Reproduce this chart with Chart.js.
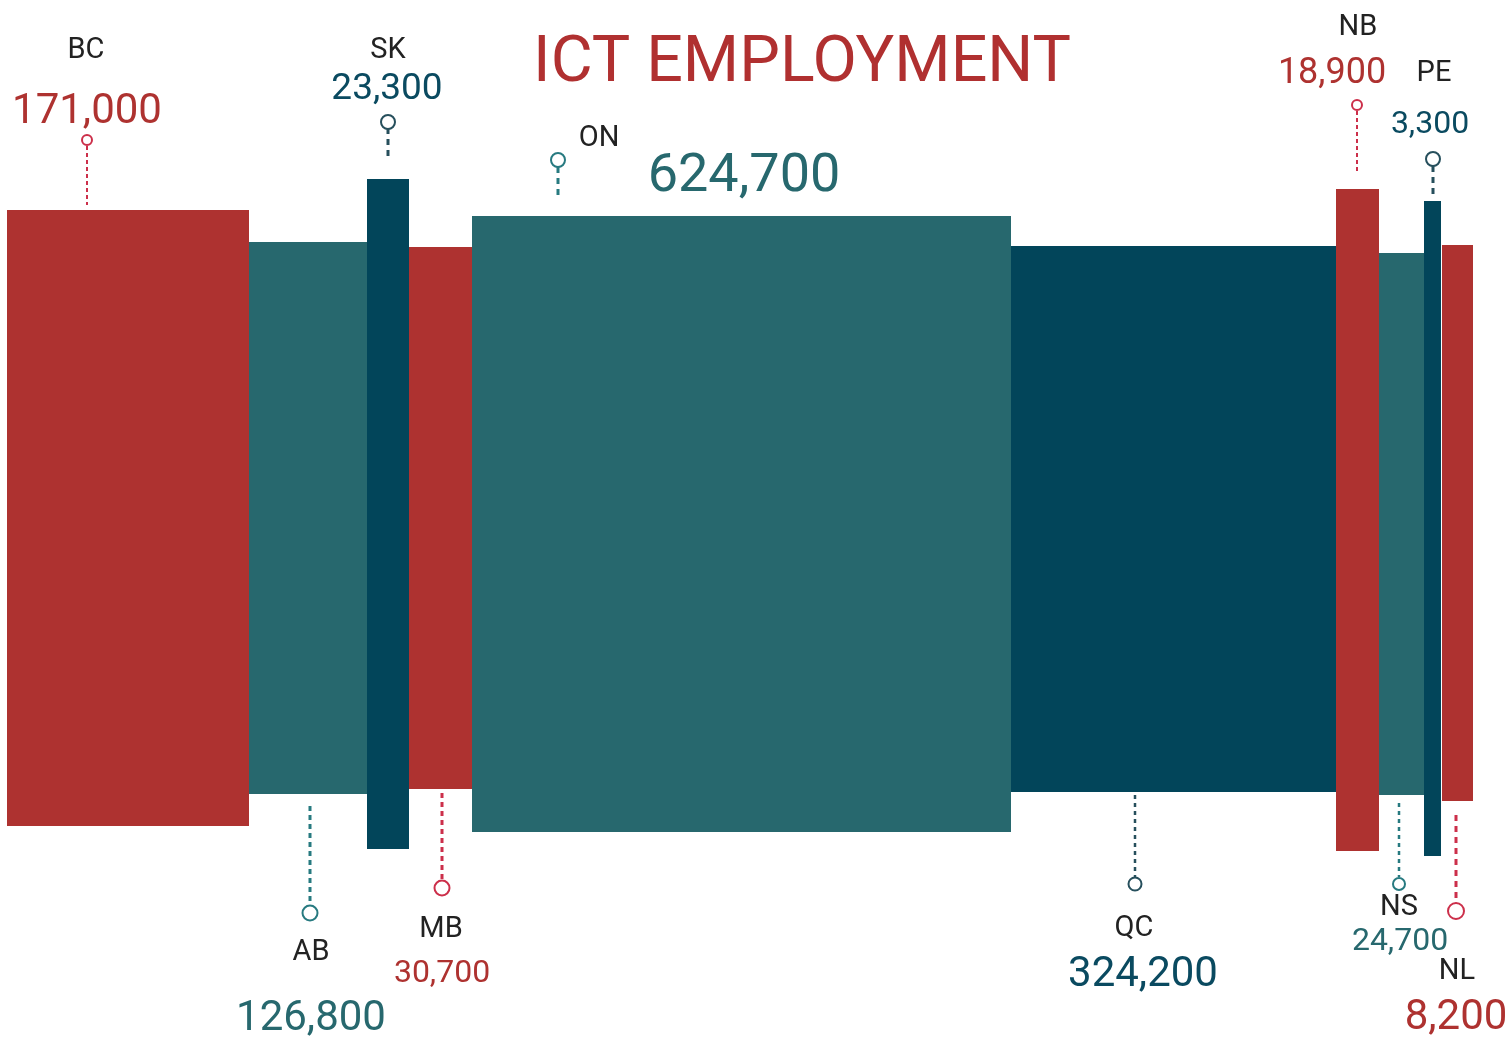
<!DOCTYPE html>
<html>
<head>
<meta charset="utf-8">
<script src="https://cdn.jsdelivr.net/npm/chart.js@4.4.1/dist/chart.umd.min.js"></script>
<style>
    html, body { margin: 0; padding: 0; background: #fff; }
    #wrap { width: 1510px; height: 1041px; position: relative; }
</style>
</head>
<body>
<div id="wrap"><canvas id="ictChart"></canvas></div>
<script>
// ===== DATA =====
const provinces = ["BC", "AB", "SK", "MB", "ON", "QC", "NB", "NS", "PE", "NL"];
const employment = [171000, 126800, 23300, 30700, 624700, 324200, 18900, 24700, 3300, 8200];

// bar extents (x = left edge + width, y = above / below centre line)
const barLeft = [7, 249, 367, 409, 472, 1011, 1336, 1379, 1424, 1442];
const barWidth = [242, 118, 42, 63, 539, 325, 43, 45, 17, 31];
const barTop = [310, 278, 341, 273, 304, 274, 331, 267, 319, 275];
const barBottom = [-306, -274, -329, -269, -312, -272, -331, -275, -336, -281];

// colour group for each province: 0 red, 1 teal, 2 navy
const colourGroup = [0, 1, 2, 0, 1, 2, 0, 1, 2, 0];

// ===== STYLE =====
const barColours = ["#ae3230", "#27686e", "#02455a"];
const markerColours = ["#cc2f4a", "#277a80", "#264f5c"];
const valueColours = ["#ae3230", "#27686e", "#0a4a60"];

// leader lines + markers (in chart units)
const leaders = [
    { x: 87,   from: 374,  to: 315,  dot: 380,  r: 5,   dash: [4, 3], w: 2 },
    { x: 310,  from: -286, to: -382, dot: -393, r: 7.5, dash: [5, 4], w: 3 },
    { x: 388,  from: 392,  to: 360,  dot: 398,  r: 7,   dash: [6, 5], w: 3 },
    { x: 442,  from: -273, to: -360, dot: -368, r: 7.5, dash: [5, 4], w: 3 },
    { x: 558,  from: 353,  to: 322,  dot: 360,  r: 7,   dash: [6, 5], w: 3 },
    { x: 1135, from: -275, to: -357, dot: -364, r: 6.5, dash: [4, 4], w: 2.5 },
    { x: 1357, from: 409,  to: 348,  dot: 415,  r: 5,   dash: [4, 3], w: 2 },
    { x: 1399, from: -283, to: -357, dot: -364, r: 6,   dash: [4, 4], w: 2.5 },
    { x: 1433, from: 354,  to: 323,  dot: 361,  r: 7,   dash: [6, 5], w: 3 },
    { x: 1456, from: -295, to: -382, dot: -391, r: 8,   dash: [6, 5], w: 3 }
];

// text positions (chart units, alphabetic baseline)
const labelPos = [
    { nx: 86,   ny: 462,  vx: 87,   vy: 397,  size: 42 },
    { nx: 311,  ny: -440, vx: 311,  vy: -510, size: 42 },
    { nx: 388,  ny: 462,  vx: 387,  vy: 421,  size: 37 },
    { nx: 441,  ny: -417, vx: 442,  vy: -462, size: 32 },
    { nx: 599,  ny: 374,  vx: 744,  vy: 329,  size: 54 },
    { nx: 1134, ny: -416, vx: 1143, vy: -466, size: 42 },
    { nx: 1358, ny: 485,  vx: 1332, vy: 437,  size: 36 },
    { nx: 1399, ny: -395, vx: 1400, vy: -430, size: 32 },
    { nx: 1434, ny: 439,  vx: 1430, vy: 387,  size: 32 },
    { nx: 1457, ny: -459, vx: 1456, vy: -509, size: 42 }
];

const titleText = "ICT EMPLOYMENT";

// ===== DATASETS =====
const datasets = [];

provinces.forEach((p, i) => {
    const g = colourGroup[i];
    datasets.push({
        type: "line",
        label: p,
        data: [
            { x: barLeft[i], y: barTop[i] },
            { x: barLeft[i] + barWidth[i], y: barTop[i] }
        ],
        fill: { value: barBottom[i] },
        backgroundColor: barColours[g],
        borderWidth: 0,
        pointRadius: 0,
        order: 3
    });
});

provinces.forEach((p, i) => {
    const g = colourGroup[i];
    const l = leaders[i];
    datasets.push({
        type: "line",
        label: p + " leader",
        data: [{ x: l.x, y: l.from }, { x: l.x, y: l.to }],
        borderColor: markerColours[g],
        borderWidth: l.w,
        borderDash: l.dash,
        fill: false,
        pointRadius: 0,
        order: 2
    });
    datasets.push({
        type: "scatter",
        label: p + " marker",
        data: [{ x: l.x, y: l.dot }],
        pointStyle: "circle",
        pointRadius: l.r,
        pointBorderWidth: 2,
        pointBorderColor: markerColours[g],
        pointBackgroundColor: "#ffffff",
        order: 1
    });
});

// ===== TEXT PLUGIN =====
const textPlugin = {
    id: "textLabels",
    afterDraw(chart) {
        const ctx = chart.ctx;
        const xs = chart.scales.x;
        const ys = chart.scales.y;
        ctx.save();
        ctx.textAlign = "center";
        ctx.textBaseline = "alphabetic";

        ctx.fillStyle = "#b03030";
        ctx.font = "64.5px Roboto";
        ctx.fillText(titleText, xs.getPixelForValue(802), ys.getPixelForValue(439));

        provinces.forEach((p, i) => {
            const pos = labelPos[i];
            ctx.fillStyle = "#222222";
            ctx.font = "29px Roboto";
            ctx.fillText(p, xs.getPixelForValue(pos.nx), ys.getPixelForValue(pos.ny));
            ctx.fillStyle = valueColours[colourGroup[i]];
            ctx.font = pos.size + "px Roboto";
            ctx.fillText(employment[i].toLocaleString("en-US"),
                xs.getPixelForValue(pos.vx), ys.getPixelForValue(pos.vy));
        });
        ctx.restore();
    }
};

new Chart(document.getElementById("ictChart"), {
    type: "line",
    data: { datasets: datasets },
    options: {
        responsive: true,
        maintainAspectRatio: false,
        animation: false,
        layout: { padding: 0, autoPadding: false },
        plugins: { legend: { display: false }, tooltip: { enabled: false } },
        elements: { line: { tension: 0 } },
        scales: {
            x: { type: "linear", min: 0, max: 1510, display: false },
            y: { type: "linear", min: -521, max: 520, display: false }
        }
    },
    plugins: [textPlugin]
});
</script>
</body>
</html>
